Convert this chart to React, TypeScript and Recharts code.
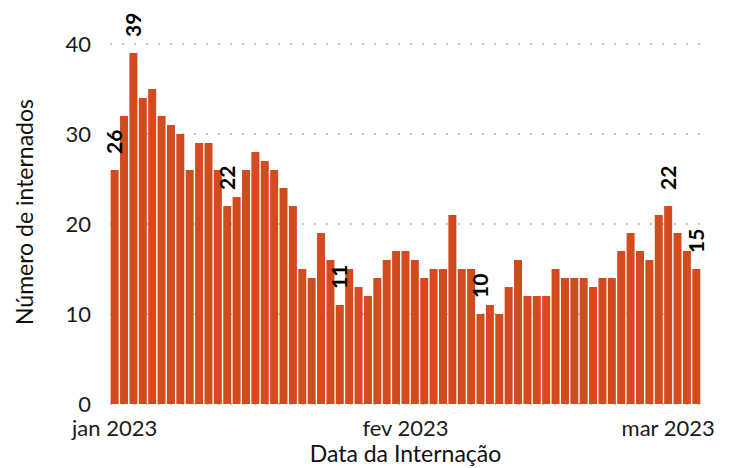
import { BarChart, Bar, XAxis, YAxis, CartesianGrid, LabelList } from "recharts";

// daily admissions, 1 jan – 4 mar 2023
const dates = [
  "2023-01-01", "2023-01-02", "2023-01-03", "2023-01-04", "2023-01-05", "2023-01-06", "2023-01-07",
  "2023-01-08", "2023-01-09", "2023-01-10", "2023-01-11", "2023-01-12", "2023-01-13", "2023-01-14",
  "2023-01-15", "2023-01-16", "2023-01-17", "2023-01-18", "2023-01-19", "2023-01-20", "2023-01-21",
  "2023-01-22", "2023-01-23", "2023-01-24", "2023-01-25", "2023-01-26", "2023-01-27", "2023-01-28",
  "2023-01-29", "2023-01-30", "2023-01-31", "2023-02-01", "2023-02-02", "2023-02-03", "2023-02-04",
  "2023-02-05", "2023-02-06", "2023-02-07", "2023-02-08", "2023-02-09", "2023-02-10", "2023-02-11",
  "2023-02-12", "2023-02-13", "2023-02-14", "2023-02-15", "2023-02-16", "2023-02-17", "2023-02-18",
  "2023-02-19", "2023-02-20", "2023-02-21", "2023-02-22", "2023-02-23", "2023-02-24", "2023-02-25",
  "2023-02-26", "2023-02-27", "2023-02-28", "2023-03-01", "2023-03-02", "2023-03-03", "2023-03-04",
];

const internados = [
  26, 32, 39, 34, 35, 32, 31, 30, 26, 29, 29, 26, 22, 23, 26, 28,
  27, 26, 24, 22, 15, 14, 19, 16, 11, 15, 13, 12, 14, 16, 17, 17,
  16, 14, 15, 15, 21, 15, 15, 10, 11, 10, 13, 16, 12, 12, 12, 15,
  14, 14, 14, 13, 14, 14, 17, 19, 17, 16, 21, 22, 19, 17, 15,
];

// days that get a value label
const labeledDates = [
  "2023-01-01", "2023-01-03", "2023-01-13", "2023-01-25",
  "2023-02-09", "2023-03-01", "2023-03-04",
];

const yTicks = [0, 10, 20, 30, 40];

const monthNames: Record<string, string> = {
  "01": "jan",
  "02": "fev",
  "03": "mar",
};

const data = dates.map((d, i) => ({
  date: d,
  n: internados[i],
  lab: labeledDates.includes(d) ? internados[i] : null,
}));

const FONT = "Lato, 'Open Sans', sans-serif";

const fmtTick = (d: string) => {
  const [y, m, day] = d.split("-");
  return day === "01" ? `${monthNames[m]} ${y}` : "";
};

const BarLabel = (props: any) => {
  const { value } = props;
  if (value === null || value === undefined) return null;
  const x = props.x ?? props.viewBox?.x;
  const y = props.y ?? props.viewBox?.y;
  const width = props.width ?? props.viewBox?.width;
  const cx = x + width / 2 + 7.5;
  const ty = y - 16;
  return (
    <text
      x={cx}
      y={ty}
      transform={`rotate(-90, ${cx}, ${ty})`}
      fontFamily={FONT}
      fontSize={21}
      fontWeight="bold"
      fill="#000"
      textAnchor="start"
    >
      {value}
    </text>
  );
};

const App = () => {
  return (
    <div style={{ position: "absolute", left: 0, top: 0 }}>
      <BarChart
        width={730}
        height={468}
        data={data}
        margin={{ top: 44, right: 29, bottom: 0, left: 0 }}
        barCategoryGap="7%"
        style={{ fontFamily: FONT }}
      >
        <CartesianGrid
          vertical={false}
          stroke="#c8c8c8"
          strokeWidth={2}
          strokeDasharray="2 10"
        />
        <XAxis
          dataKey="date"
          interval={0}
          axisLine={false}
          tickLine={false}
          tickMargin={10}
          height={64}
          tickFormatter={fmtTick}
          tick={{ fontSize: 22, fill: "#1a1a1a", fontFamily: FONT }}
          label={{
            value: "Data da Internação",
            position: "insideBottom",
            offset: 6,
            fontSize: 23,
            fill: "#111",
            fontFamily: FONT,
          }}
        />
        <YAxis
          width={110}
          domain={[0, 40]}
          ticks={yTicks}
          axisLine={false}
          tickLine={false}
          tickMargin={13}
          tick={{ fontSize: 22, fill: "#1a1a1a", fontFamily: FONT }}
          label={{
            value: "Número de internados",
            angle: -90,
            position: "insideLeft",
            offset: 25,
            dy: -12,
            fontSize: 23,
            fill: "#111",
            fontFamily: FONT,
            style: { textAnchor: "middle" },
          }}
        />
        <Bar dataKey="n" fill="#D24B1F" isAnimationActive={false}>
          <LabelList dataKey="lab" content={BarLabel} />
        </Bar>
      </BarChart>
    </div>
  );
};

export default App;
